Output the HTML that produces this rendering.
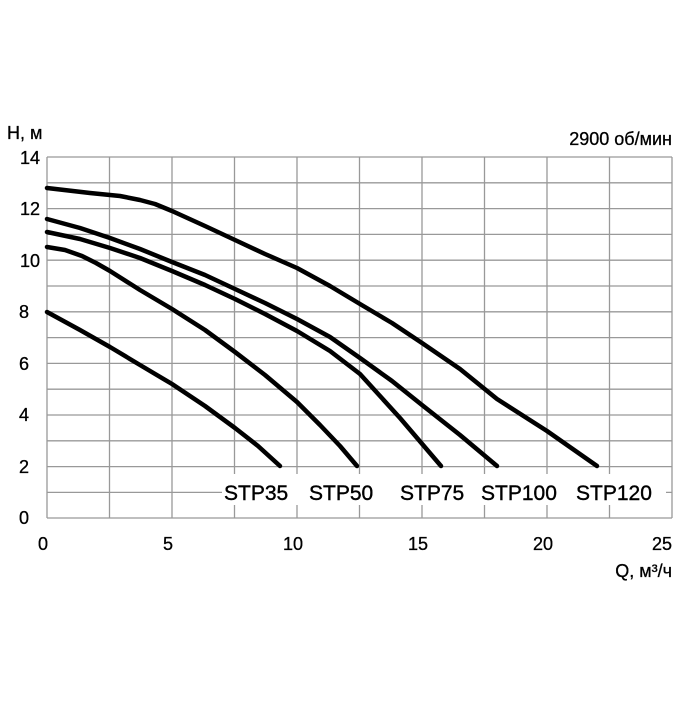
<!DOCTYPE html>
<html><head><meta charset="utf-8"><style>body{margin:0;background:#fff}</style></head><body>
<svg width="700" height="700" xmlns="http://www.w3.org/2000/svg" font-family="Liberation Sans, sans-serif">
<rect width="700" height="700" fill="#fff"/>
<g stroke="#999" stroke-width="1.3">
<line x1="47" y1="157" x2="47" y2="518"/><line x1="109.5" y1="157" x2="109.5" y2="518"/><line x1="172" y1="157" x2="172" y2="518"/><line x1="234.5" y1="157" x2="234.5" y2="518"/><line x1="297" y1="157" x2="297" y2="518"/><line x1="359.5" y1="157" x2="359.5" y2="518"/><line x1="422" y1="157" x2="422" y2="518"/><line x1="484.5" y1="157" x2="484.5" y2="518"/><line x1="547" y1="157" x2="547" y2="518"/><line x1="609.5" y1="157" x2="609.5" y2="518"/><line x1="672" y1="157" x2="672" y2="518"/>
<line x1="47" y1="157" x2="672" y2="157"/><line x1="47" y1="182.8" x2="672" y2="182.8"/><line x1="47" y1="208.6" x2="672" y2="208.6"/><line x1="47" y1="234.4" x2="672" y2="234.4"/><line x1="47" y1="260.2" x2="672" y2="260.2"/><line x1="47" y1="286" x2="672" y2="286"/><line x1="47" y1="311.8" x2="672" y2="311.8"/><line x1="47" y1="337.6" x2="672" y2="337.6"/><line x1="47" y1="363.4" x2="672" y2="363.4"/><line x1="47" y1="389.2" x2="672" y2="389.2"/><line x1="47" y1="415" x2="672" y2="415"/><line x1="47" y1="440.8" x2="672" y2="440.8"/><line x1="47" y1="466.6" x2="672" y2="466.6"/><line x1="47" y1="492.4" x2="672" y2="492.4"/><line x1="47" y1="518" x2="672" y2="518"/>
</g>
<rect x="222" y="474" width="444" height="31" fill="#fff"/>
<g fill="none" stroke="#000" stroke-width="4.5" stroke-linejoin="round" stroke-linecap="round">
<polyline points="47,188 90,193 120,196 140,200 155,204 172,211 205,226 235,240 265,254 297,268 330,286 360,304 392,323 422,343 460,369 497,399 547,431 597,466"/>
<polyline points="47,219 80,228 110,238 140,249 172,262 205,275 235,289 265,303 297,319 330,337 360,358 392,381 422,405 460,435 497,466"/>
<polyline points="47,232 80,239 110,248 140,258 172,271 205,285 235,299 265,314 297,331 330,351 360,374 400,418 441,466"/>
<polyline points="47,247 65,250 82,256 96,263 110,271 140,290 172,309 205,330 235,352 265,375 297,402 320,425 340,446 357,466"/>
<polyline points="47,312 80,330 110,347 140,365 172,384 205,406 235,428 258,446 280,466"/>
</g>
<g font-size="21" fill="#000" stroke="#000" stroke-width="0.4">
<text x="224" y="500">STP35</text><text x="309" y="500">STP50</text><text x="400" y="500">STP75</text><text x="481" y="500">STP100</text><text x="576" y="500">STP120</text>
</g>
<g font-size="18" fill="#000" stroke="#000" stroke-width="0.3">
<text x="40" y="164" text-anchor="end">14</text><text x="40" y="215" text-anchor="end">12</text><text x="40" y="267" text-anchor="end">10</text><text x="29" y="318" text-anchor="end">8</text><text x="29" y="370" text-anchor="end">6</text><text x="29" y="421" text-anchor="end">4</text><text x="29" y="473" text-anchor="end">2</text><text x="29" y="524" text-anchor="end">0</text>
<text x="43" y="550" text-anchor="middle">0</text><text x="168" y="550" text-anchor="middle">5</text><text x="293" y="550" text-anchor="middle">10</text><text x="418" y="550" text-anchor="middle">15</text><text x="543" y="550" text-anchor="middle">20</text><text x="662" y="550" text-anchor="middle">25</text>
<text x="7" y="139">Н, м</text>
<text x="672" y="145" text-anchor="end">2900 об/мин</text>
<text x="672" y="577" text-anchor="end">Q, м³/ч</text>
</g>
</svg>
</body></html>
